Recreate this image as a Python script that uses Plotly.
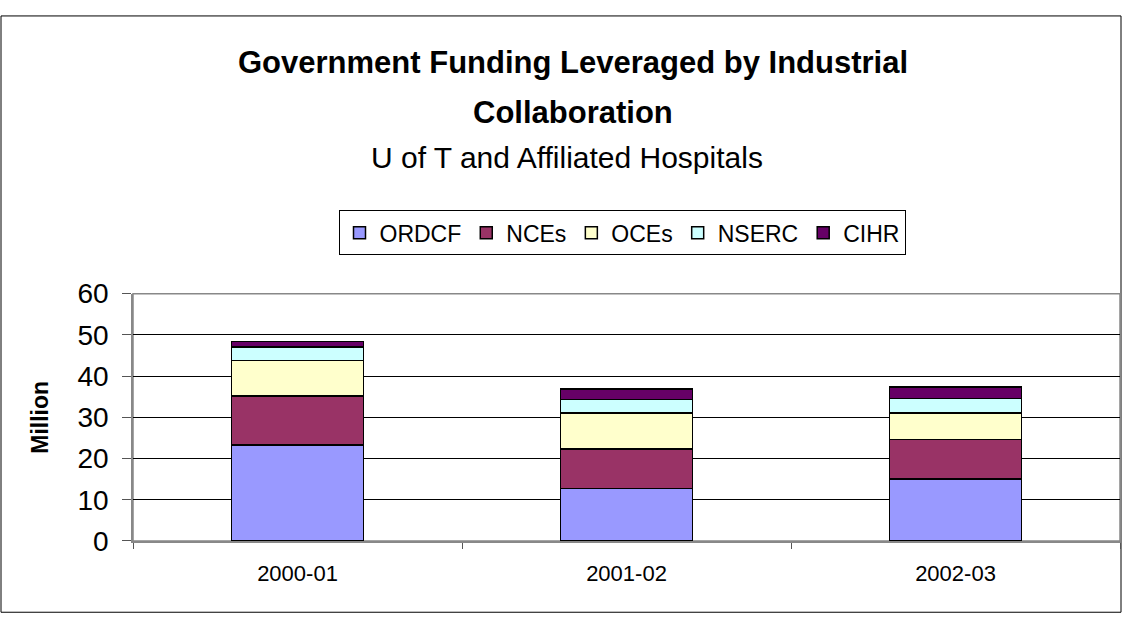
import plotly.graph_objects as go

years = ["2000-01", "2001-02", "2002-03"]
series_names = ["ORDCF", "NCEs", "OCEs", "NSERC", "CIHR"]
ordcf = [23.3, 12.7, 15.0]
nces = [11.9, 9.6, 9.6]
oces = [8.6, 8.7, 6.4]
nserc = [3.2, 3.3, 3.6]
cihr = [1.4, 2.6, 2.8]
colors = ["#9999FF", "#993366", "#FFFFCC", "#CCFFFF", "#660066"]
y_ticks = [0, 10, 20, 30, 40, 50, 60]

W, H = 1127, 633
px_l, px_r, px_t, px_b = 133, 1120, 293, 553

fig = go.Figure()
for name, vals, col in zip(series_names, [ordcf, nces, oces, nserc, cihr], colors):
    fig.add_trace(go.Bar(
        x=years, y=vals, name=name,
        marker=dict(color=col, line=dict(color="black", width=1.5)),
        width=0.4,
    ))

font = "Arial, Liberation Sans, sans-serif"
fig.update_layout(
    width=W, height=H,
    barmode="stack",
    margin=dict(l=0, r=0, t=0, b=0),
    paper_bgcolor="white", plot_bgcolor="white",
    font=dict(family=font, color="black"),
    showlegend=True,
    legend=dict(
        orientation="h", x=622 / W, y=1 - 229 / H, xanchor="center", yanchor="middle",
        bordercolor="black", borderwidth=1, font=dict(size=23, family=font),
        itemwidth=30, tracegroupgap=0, traceorder="normal",
    ),
    xaxis=dict(
        domain=[px_l / W, px_r / W], type="category",
        showline=True, linecolor="#888888", linewidth=1.5,
        ticks="outside", tickson="boundaries", ticklen=6, tickcolor="#555555",
        tickfont=dict(size=22, family=font), showgrid=False, ticklabelstandoff=12,
    ),
    yaxis=dict(
        domain=[(H - px_b) / H, (H - px_t) / H], range=[0, 60],
        tickvals=y_ticks, ticks="outside", ticklen=9, tickcolor="#555555",
        showline=True, linecolor="#888888", linewidth=1.5, mirror=False,
        showgrid=True, gridcolor="black", gridwidth=1,
        tickfont=dict(size=28, family=font), ticklabelstandoff=8,
        title=dict(text="<b>Million</b>", font=dict(size=23, family=font), standoff=22),
        zeroline=False,
    ),
    shapes=[
        dict(type="rect", xref="paper", yref="paper", x0=1 / W, x1=1121 / W, y0=1 - 628 / H, y1=1 - 1 / H,
             line=dict(color="black", width=1), fillcolor="rgba(0,0,0,0)", layer="below"),
        dict(type="rect", xref="paper", yref="paper", x0=px_l / W, x1=px_r / W, y0=(H - px_b) / H, y1=(H - px_t) / H,
             line=dict(color="#888888", width=1.5), fillcolor="rgba(0,0,0,0)", layer="below"),
    ],
    annotations=[
        dict(text="<b>Government Funding Leveraged by Industrial</b>", x=573 / W, y=1 - 50 / H,
             xref="paper", yref="paper", xanchor="center", yanchor="middle",
             showarrow=False, font=dict(size=31, family=font)),
        dict(text="<b>Collaboration</b>", x=573 / W, y=1 - 103 / H,
             xref="paper", yref="paper", xanchor="center", yanchor="middle",
             showarrow=False, font=dict(size=31, family=font)),
        dict(text="U of T and Affiliated Hospitals", x=567 / W, y=1 - 150 / H,
             xref="paper", yref="paper", xanchor="center", yanchor="middle",
             showarrow=False, font=dict(size=30, family=font)),
    ],
)

post = (
    "document.documentElement.style.margin='0';"
    "document.body.style.margin='0';"
    "document.documentElement.style.overflow='hidden';"
    "document.body.style.overflow='hidden';"
    "var d=document.getElementById('{plot_id}');"
    "d.style.position='fixed';d.style.top='0px';d.style.left='0px';"
)
fig.write_html("out.html", config={"displayModeBar": False}, post_script=post)
